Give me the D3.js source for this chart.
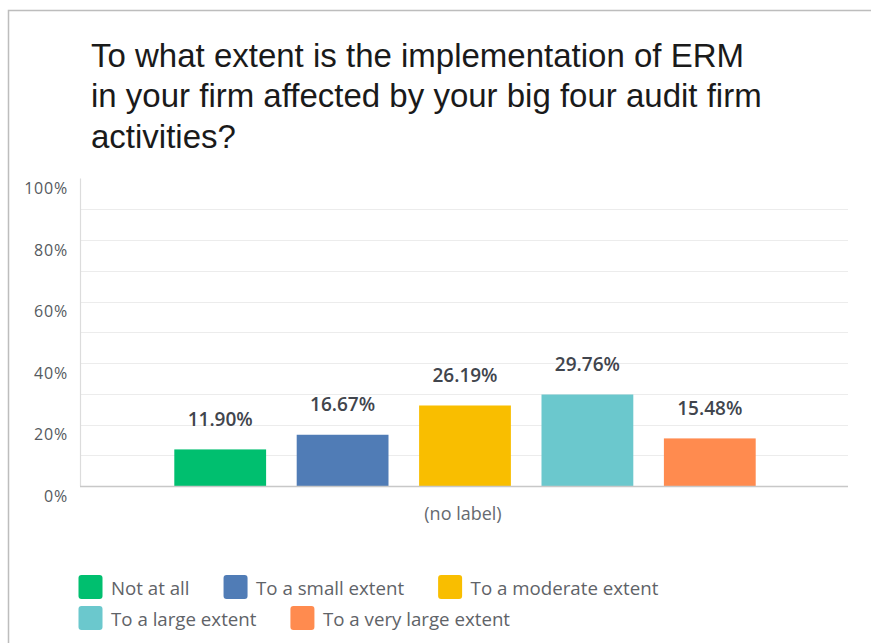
<!DOCTYPE html>
<html>
<head>
<meta charset="utf-8">
<script src="https://cdn.jsdelivr.net/npm/d3@7"></script>
<style>
  html, body { margin: 0; padding: 0; background: #fff; }
  svg { display: block; }
</style>
</head>
<body>
<svg id="chart" width="871" height="643"></svg>
<script>
// Survey question and answer data
const titleLines = [
  "To what extent is the implementation of ERM",
  "in your firm affected by your big four audit firm",
  "activities?"
];
const categories = [
  "Not at all",
  "To a small extent",
  "To a moderate extent",
  "To a large extent",
  "To a very large extent"
];
const percentages = [11.90, 16.67, 26.19, 29.76, 15.48];
const colors = ["#00bf6f", "#507cb6", "#f9be00", "#6bc8cd", "#ff8b4f"];
const yTicks = [0, 20, 40, 60, 80, 100];
const gridValues = [10, 20, 30, 40, 50, 60, 70, 80, 90];
const groupLabel = "(no label)";

const svg = d3.select("#chart");
const W = 871, H = 643;
const plot = { left: 80, right: 848, top: 178.6, bottom: 486 };
const uiFont = "'Open Sans', sans-serif";

// Panel frame (top and left edges)
svg.append("path")
  .attr("d", `M8.5,${H} L8.5,10.5 L${W},10.5`)
  .attr("fill", "none")
  .attr("stroke", "#bdbdbd")
  .attr("stroke-width", 1.5);

// Title
svg.append("text")
  .attr("font-family", "'Liberation Sans', Arial, sans-serif")
  .attr("font-size", 33)
  .attr("fill", "#1a1a1a")
  .selectAll("tspan")
  .data(titleLines)
  .join("tspan")
  .attr("x", 91)
  .attr("y", (d, i) => 66.5 + i * 40.6)
  .text(d => d);

// Scales
const y = d3.scaleLinear().domain([0, 100]).range([plot.bottom, plot.top]);
const x = d3.scaleBand()
  .domain(categories)
  .range([plot.left + 79, plot.right - 77])
  .paddingInner(0.25)
  .paddingOuter(0.125);

// Gridlines
svg.append("g")
  .selectAll("line")
  .data(gridValues)
  .join("line")
  .attr("x1", plot.left)
  .attr("x2", plot.right)
  .attr("y1", d => Math.round(y(d)) + 0.5)
  .attr("y2", d => Math.round(y(d)) + 0.5)
  .attr("stroke", "#ececec")
  .attr("stroke-width", 1.2);

// Y axis (labels sit just below their value)
const yAxis = d3.axisLeft(y)
  .tickValues(yTicks)
  .tickSize(0)
  .tickPadding(12)
  .tickFormat(d => d + "%");
const yg = svg.append("g")
  .attr("transform", `translate(${plot.left},0)`)
  .call(yAxis);
yg.select(".domain").remove();
yg.selectAll("text")
  .attr("font-family", uiFont)
  .attr("font-size", 16)
  .attr("letter-spacing", 0.8)
  .attr("fill", "#555a60")
  .attr("dy", "0.95em");

// Left axis line
svg.append("line")
  .attr("x1", plot.left + 0.5).attr("x2", plot.left + 0.5)
  .attr("y1", plot.top).attr("y2", plot.bottom)
  .attr("stroke", "#dcdcdc")
  .attr("stroke-width", 1.2);

// Bars
svg.append("g")
  .selectAll("rect")
  .data(categories)
  .join("rect")
  .attr("x", d => x(d))
  .attr("width", x.bandwidth())
  .attr("y", (d, i) => y(percentages[i]))
  .attr("height", (d, i) => plot.bottom - y(percentages[i]))
  .attr("fill", (d, i) => colors[i]);

// Baseline
svg.append("line")
  .attr("x1", plot.left).attr("x2", plot.right)
  .attr("y1", plot.bottom + 0.5).attr("y2", plot.bottom + 0.5)
  .attr("stroke", "#c8c8c8")
  .attr("stroke-width", 1.5);

// Value labels
svg.append("g")
  .selectAll("text")
  .data(categories)
  .join("text")
  .attr("x", d => x(d) + x.bandwidth() / 2)
  .attr("y", (d, i) => y(percentages[i]) - 23.5)
  .attr("text-anchor", "middle")
  .attr("font-family", uiFont)
  .attr("font-size", 19)
  .attr("font-weight", 600)
  .attr("fill", "#41454d")
  .text((d, i) => percentages[i].toFixed(2) + "%");

// Group label under the bars
svg.append("text")
  .attr("x", (plot.left + plot.right) / 2 - 1)
  .attr("y", 520)
  .attr("text-anchor", "middle")
  .attr("font-family", uiFont)
  .attr("font-size", 18)
  .attr("fill", "#666a70")
  .text(groupLabel);

// Legend: items flow left to right and wrap
const legend = svg.append("g");
const sw = 24, gapText = 8.5, gapItem = 34, rowH = 31, maxRight = 800;
let lx = 78.5, row = 0;
categories.forEach((c, i) => {
  const g = legend.append("g");
  const t = g.append("text")
    .attr("font-family", uiFont)
    .attr("font-size", 18.7)
    .attr("fill", "#5f6368")
    .text(c);
  const tw = t.node().getComputedTextLength();
  if (lx + sw + gapText + tw > maxRight) { row += 1; lx = 78.5; }
  const top = 575 + row * rowH;
  g.insert("rect", "text")
    .attr("x", lx).attr("y", top)
    .attr("width", sw).attr("height", sw)
    .attr("rx", 3)
    .attr("fill", colors[i]);
  t.attr("x", lx + sw + gapText).attr("y", top + 19.7);
  lx += sw + gapText + tw + gapItem;
});
</script>
</body>
</html>
